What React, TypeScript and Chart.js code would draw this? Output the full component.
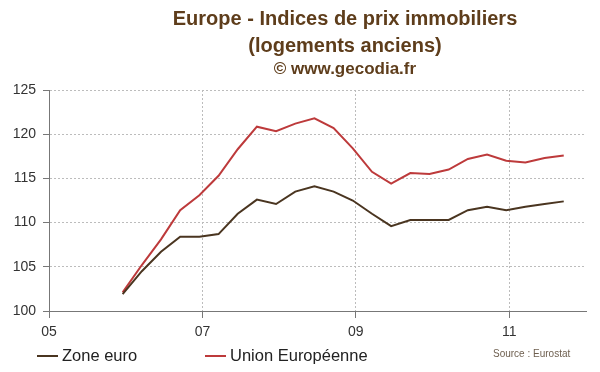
import React, { useEffect, useRef } from "react";
import { Chart, registerables } from "chart.js";

Chart.register(...registerables);

// Quarters (2006 T1 .. 2011 T4)
const quarters: string[] = [
  "2006T1", "2006T2", "2006T3", "2006T4",
  "2007T1", "2007T2", "2007T3", "2007T4",
  "2008T1", "2008T2", "2008T3", "2008T4",
  "2009T1", "2009T2", "2009T3", "2009T4",
  "2010T1", "2010T2", "2010T3", "2010T4",
  "2011T1", "2011T2", "2011T3", "2011T4",
];

const zoneEuro: number[] = [
  101.9, 104.5, 106.7, 108.4, 108.4, 108.7, 111.0, 112.6,
  112.1, 113.5, 114.1, 113.5, 112.5, 111.0, 109.6, 110.3,
  110.3, 110.3, 111.4, 111.8, 111.4, 111.8, 112.1, 112.4,
];

const unionEuropeenne: number[] = [
  102.1, 105.2, 108.1, 111.4, 113.1, 115.3, 118.3, 120.85,
  120.35, 121.2, 121.8, 120.7, 118.4, 115.75, 114.4, 115.6,
  115.5, 116.0, 117.2, 117.7, 117.0, 116.8, 117.3, 117.6,
];

const xTickYears: number[] = [2005, 2007, 2009, 2011];
const xTickLabels: string[] = ["05", "07", "09", "11"];
const yTicks: number[] = [100, 105, 110, 115, 120, 125];

const seriesNames: string[] = ["Zone euro", "Union Européenne"];
const seriesColors: string[] = ["#4a3520", "#bd3a3b"];

const titleLines: string[] = [
  "Europe - Indices de prix immobiliers",
  "(logements anciens)",
  "© www.gecodia.fr",
];
const sourceText = "Source : Eurostat";

const FONT = "'Liberation Sans', Arial, Helvetica, sans-serif";

function quarterToYear(q: string): number {
  const year = parseInt(q.slice(0, 4), 10);
  const qi = parseInt(q.slice(5), 10);
  return year + (qi - 1) * 0.25 - 0.04;
}

export default function App() {
  const canvasRef = useRef<HTMLCanvasElement | null>(null);

  useEffect(() => {
    if (!canvasRef.current) return;
    const xs = quarters.map(quarterToYear);
    const chart = new Chart(canvasRef.current, {
      type: "line",
      data: {
        datasets: [
          {
            label: seriesNames[0],
            data: zoneEuro.map((v, i) => ({ x: xs[i], y: v })),
            borderColor: seriesColors[0],
            borderWidth: 2,
            pointRadius: 0,
            tension: 0,
          },
          {
            label: seriesNames[1],
            data: unionEuropeenne.map((v, i) => ({ x: xs[i], y: v })),
            borderColor: seriesColors[1],
            borderWidth: 2,
            pointRadius: 0,
            tension: 0,
          },
        ],
      },
      options: {
        animation: false,
        responsive: false,
        maintainAspectRatio: false,
        layout: { padding: { top: 90, right: 14, bottom: 36, left: 0 } },
        plugins: {
          legend: { display: false },
          title: { display: false },
          tooltip: { enabled: false },
        },
        scales: {
          x: {
            type: "linear",
            min: xTickYears[0],
            max: 2012,
            afterBuildTicks: (scale: any) => {
              scale.ticks = xTickYears.map((v) => ({ value: v }));
            },
            afterFit: (scale: any) => {
              scale.height = 25;
            },
            ticks: {
              autoSkip: false,
              maxRotation: 0,
              padding: 6,
              color: "#333",
              font: { family: FONT, size: 14 },
              callback: (v: any) => {
                const idx = xTickYears.indexOf(Number(v));
                return idx >= 0 ? xTickLabels[idx] : "";
              },
            },
            grid: {
              color: "#bcbcbc",
              lineWidth: 1,
              tickLength: 7,
              tickColor: "#777",
            },
            border: { display: true, color: "#777", width: 1, dash: [2, 2] },
          },
          y: {
            min: yTicks[0],
            max: yTicks[yTicks.length - 1],
            afterBuildTicks: (scale: any) => {
              scale.ticks = yTicks.map((v) => ({ value: v }));
            },
            afterFit: (scale: any) => {
              scale.width = 49;
            },
            ticks: {
              padding: 7,
              color: "#333",
              font: { family: FONT, size: 14 },
            },
            grid: {
              color: "#bcbcbc",
              lineWidth: 1,
              tickLength: 6,
              tickColor: "#777",
            },
            border: { display: true, color: "#777", width: 1, dash: [2, 2] },
          },
        },
      },
    } as any);
    return () => chart.destroy();
  }, []);

  const legendItem = (i: number, lineLeft: number, textLeft: number) => (
    <React.Fragment key={i}>
      <div
        style={{
          position: "absolute",
          left: lineLeft,
          top: 355,
          width: 21,
          height: 2,
          background: seriesColors[i],
        }}
      />
      <div
        style={{
          position: "absolute",
          left: textLeft,
          top: 345,
          fontFamily: FONT,
          fontSize: 16.5,
          lineHeight: "20px",
          color: "#222",
          whiteSpace: "nowrap",
        }}
      >
        {seriesNames[i]}
      </div>
    </React.Fragment>
  );

  return (
    <div
      style={{
        position: "fixed",
        left: 0,
        top: 0,
        width: 600,
        height: 372,
        background: "#fff",
        overflow: "hidden",
      }}
    >
      <canvas ref={canvasRef} width={600} height={372} style={{ position: "absolute", left: 0, top: 0 }} />
      <div
        style={{
          position: "absolute",
          left: 145,
          width: 400,
          top: 5,
          textAlign: "center",
          fontFamily: FONT,
          fontWeight: "bold",
          color: "#5e3d1b",
        }}
      >
        <div style={{ fontSize: 20, lineHeight: "27px" }}>{titleLines[0]}</div>
        <div style={{ fontSize: 20, lineHeight: "27px" }}>{titleLines[1]}</div>
        <div style={{ fontSize: 17, lineHeight: "20px" }}>{titleLines[2]}</div>
      </div>
      {legendItem(0, 37, 62)}
      {legendItem(1, 205, 230)}
      <div
        style={{
          position: "absolute",
          left: 493,
          top: 347,
          fontFamily: FONT,
          fontSize: 10,
          lineHeight: "14px",
          color: "#6e5f4f",
          whiteSpace: "nowrap",
        }}
      >
        {sourceText}
      </div>
    </div>
  );
}
